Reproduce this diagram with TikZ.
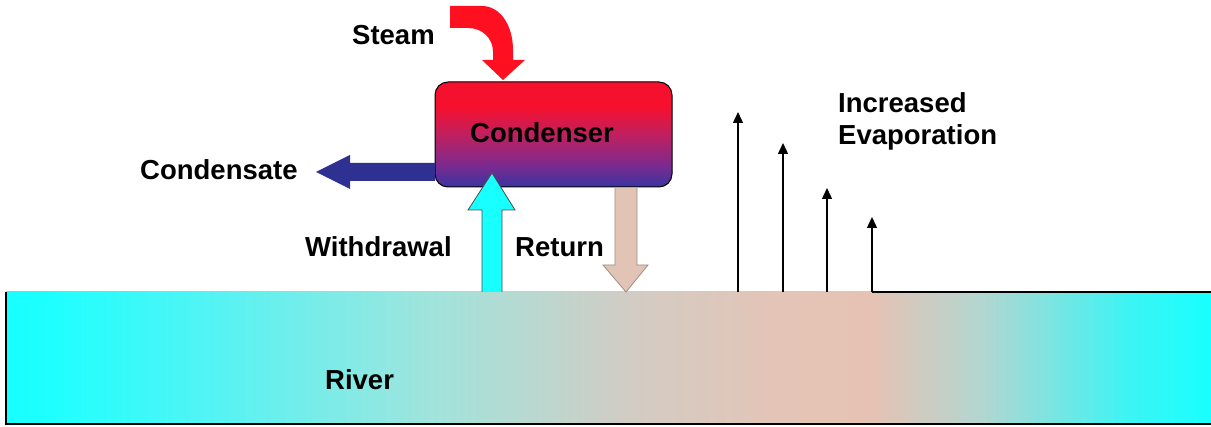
\documentclass[tikz,border=0pt]{standalone}
\usepackage{fontspec}
\setmainfont{Liberation Sans}
\usetikzlibrary{arrows.meta}
\definecolor{steamred}{HTML}{FF1020}
\definecolor{condred}{HTML}{F5102E}
\definecolor{condmag}{HTML}{C02060}
\definecolor{condpurple}{HTML}{7A2A90}
\definecolor{condblue}{HTML}{3A34A0}
\definecolor{darkblue}{HTML}{2E3192}
\definecolor{cyanw}{HTML}{18FFFF}
\definecolor{rA}{HTML}{1EFFFF}
\definecolor{rB}{HTML}{5AF2F2}
\definecolor{rC}{HTML}{A0E4DC}
\definecolor{rD}{HTML}{D2CCC4}
\definecolor{rE}{HTML}{E4C4B6}
\definecolor{rF}{HTML}{E6C2B4}
\definecolor{rG}{HTML}{B4D6D0}
\definecolor{rH}{HTML}{3CF4F4}
\definecolor{retfill}{HTML}{E2C4B6}
\definecolor{retline}{HTML}{A08C82}
\pgfdeclareverticalshading{condshade}{100bp}{color(0bp)=(condblue); color(25bp)=(condblue); color(35bp)=(condpurple); color(50bp)=(condmag); color(63bp)=(condred); color(100bp)=(condred)}
\pgfdeclarehorizontalshading{rivershade}{100bp}{color(0bp)=(cyanw); color(25bp)=(cyanw); color(26.8bp)=(rA); color(34.3bp)=(rB); color(42.6bp)=(rC); color(50.9bp)=(rD); color(57.1bp)=(rE); color(60.9bp)=(rF); color(65.4bp)=(rG); color(71.6bp)=(rH); color(75bp)=(cyanw); color(100bp)=(cyanw)}
\tikzset{
  lbl/.style={anchor=base west, inner sep=0pt, font=\fontsize{27.5}{31}\selectfont\bfseries},
  evap/.style={line width=1.4pt, -{Triangle[length=11pt,width=10pt]}},
  border/.style={line width=1.4pt, black}
}
\begin{document}
\begin{tikzpicture}[x=1pt,y=-1pt]
\useasboundingbox (0,0) rectangle (1211,427);
% river
\shade[shading=rivershade] (6,292) rectangle (1211,424);
\draw[border] (6,292) -- (6,424) -- (1211,424);
\draw[border] (872,292) -- (1211,292);
\node[lbl] (river) at (325,390) {River};
% condenser
\path[draw=black, line width=1pt, rounded corners=13pt, shading=condshade] (435,82) rectangle (672,187);
\coordinate (cond) at (553.5,134.5);
\node[lbl] (condlbl) at (470,143) {Condenser};
% steam arrow
\fill[steamred] (450,6) -- (482,6) .. controls (500,6) and (513,25) .. (513,50) -- (513,60) -- (525,60) -- (503,80) -- (482,60) -- (493,60) -- (493,52) .. controls (493,38) and (482,28) .. (468,28) -- (450,28) -- cycle;
\node[lbl] (steam) at (352,45) {Steam};
% condensate arrow
\fill[darkblue] (435,163) -- (350,163) -- (350,155) -- (316,172) -- (350,189) -- (350,181) -- (435,181) -- cycle;
\node[lbl] (condensate) at (140,180) {Condensate};
% withdrawal arrow
\filldraw[fill=cyanw, draw=black!70, line width=0.8pt] (482,292) -- (482,210) -- (468,210) -- (492,173) -- (515,210) -- (502,210) -- (502,292);
\node[lbl] (withdrawal) at (305,257) {Withdrawal};
% return arrow
\filldraw[fill=retfill, draw=retline, line width=0.8pt] (615,188) -- (615,265) -- (603,265) -- (626,292) -- (648,265) -- (637,265) -- (637,188);
\node[lbl] (return) at (515,257) {Return};
% evaporation arrows
\coordinate (e1) at (738,292); \coordinate (t1) at (738,112);
\coordinate (e2) at (783,292); \coordinate (t2) at (783,143);
\coordinate (e3) at (827,292); \coordinate (t3) at (827,188);
\coordinate (e4) at (872,292); \coordinate (t4) at (872,217);
\draw[evap] (e1) -- (t1);
\draw[evap] (e2) -- (t2);
\draw[evap] (e3) -- (t3);
\draw[evap] (e4) -- (t4);
\node[lbl] (incr) at (838,113) {Increased};
\node[lbl] (evapl) at (838,145) {Evaporation};
\end{tikzpicture}
\end{document}
